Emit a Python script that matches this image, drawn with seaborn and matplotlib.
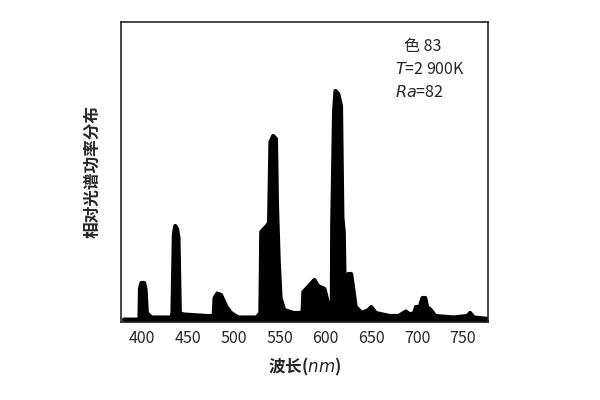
import numpy as np
import pandas as pd
import matplotlib
matplotlib.use("Agg")
import matplotlib.pyplot as plt
import seaborn as sns

# spectrum outline (wavelength nm, relative power)
wavelength = [380, 397, 397.5, 399, 402, 403.5, 405, 410, 432, 433, 434.5, 436, 438, 439.5, 441,
              445, 470, 478, 479, 482, 486, 489, 492, 497, 502, 505, 525, 529, 530,
              536, 538.5, 540, 543, 546, 547, 549, 551, 555, 565, 575, 576, 582, 588, 592,
              599, 603, 607, 607.5, 609.5, 611, 614, 617, 618.5, 620, 621, 623, 625, 628, 630,
              633, 640, 647, 650, 655, 670, 680, 688, 692, 697, 699, 703, 706, 709, 711,
              715, 720, 740, 755, 758, 762, 778]
power = [0.8, 0.8, 11, 13, 13, 11, 3, 1.5, 1.5, 3, 29, 32, 31, 28, 3,
         2.5, 2, 2, 8, 9.5, 9, 7, 5, 3, 2, 1.5, 1.5, 3, 30,
         32, 33, 60, 62, 61, 40, 20, 8, 4, 3, 3, 10, 12, 14, 12,
         11, 6, 5, 33, 70, 77, 76, 72, 35, 30, 12, 15, 16, 16, 12,
         5, 3, 4, 5, 3, 2, 2, 3.5, 2.5, 3, 5, 5, 8, 8, 5,
         4, 2, 1.5, 2, 3, 1.5, 1]

xticks = [400, 450, 500, 550, 600, 650, 700, 750]

sns.set_style("ticks")
plt.rcParams['font.family'] = ['Noto Sans CJK SC', 'DejaVu Sans']

df = pd.DataFrame({"wl": wavelength, "p": power})

fig = plt.figure(figsize=(6, 4), dpi=100)
ax = fig.add_axes([0.202, 0.195, 0.612, 0.75])
ax.fill_between(df["wl"], 0, df["p"], color="black", lw=0)
sns.lineplot(data=df, x="wl", y="p", ax=ax, color="black", lw=3)

ax.set_xlim(377, 778)
ax.set_ylim(0, 100)
ax.set_yticks([])
ax.set_xticks(xticks)
ax.set_xticklabels([str(t) for t in xticks], fontsize=11.5, fontweight='medium')
ax.tick_params(axis='x', direction='in', length=3, pad=6)
for s in ax.spines.values():
    s.set_visible(True)
    s.set_linewidth(1.2)

ax.set_xlabel("波长($\\it{nm}$)", fontsize=12, fontweight='bold', labelpad=6)
ax.set_ylabel("相对光谱功率分布", fontsize=12, fontweight='bold', labelpad=14)

ax.text(0.77, 0.92, "色 83", transform=ax.transAxes, fontsize=11.5, va='center')
ax.text(0.745, 0.84, "$T$=2 900K", transform=ax.transAxes, fontsize=11.5, va='center')
ax.text(0.745, 0.765, "$Ra$=82", transform=ax.transAxes, fontsize=11.5, va='center')

fig.savefig("out.png", dpi=100)
